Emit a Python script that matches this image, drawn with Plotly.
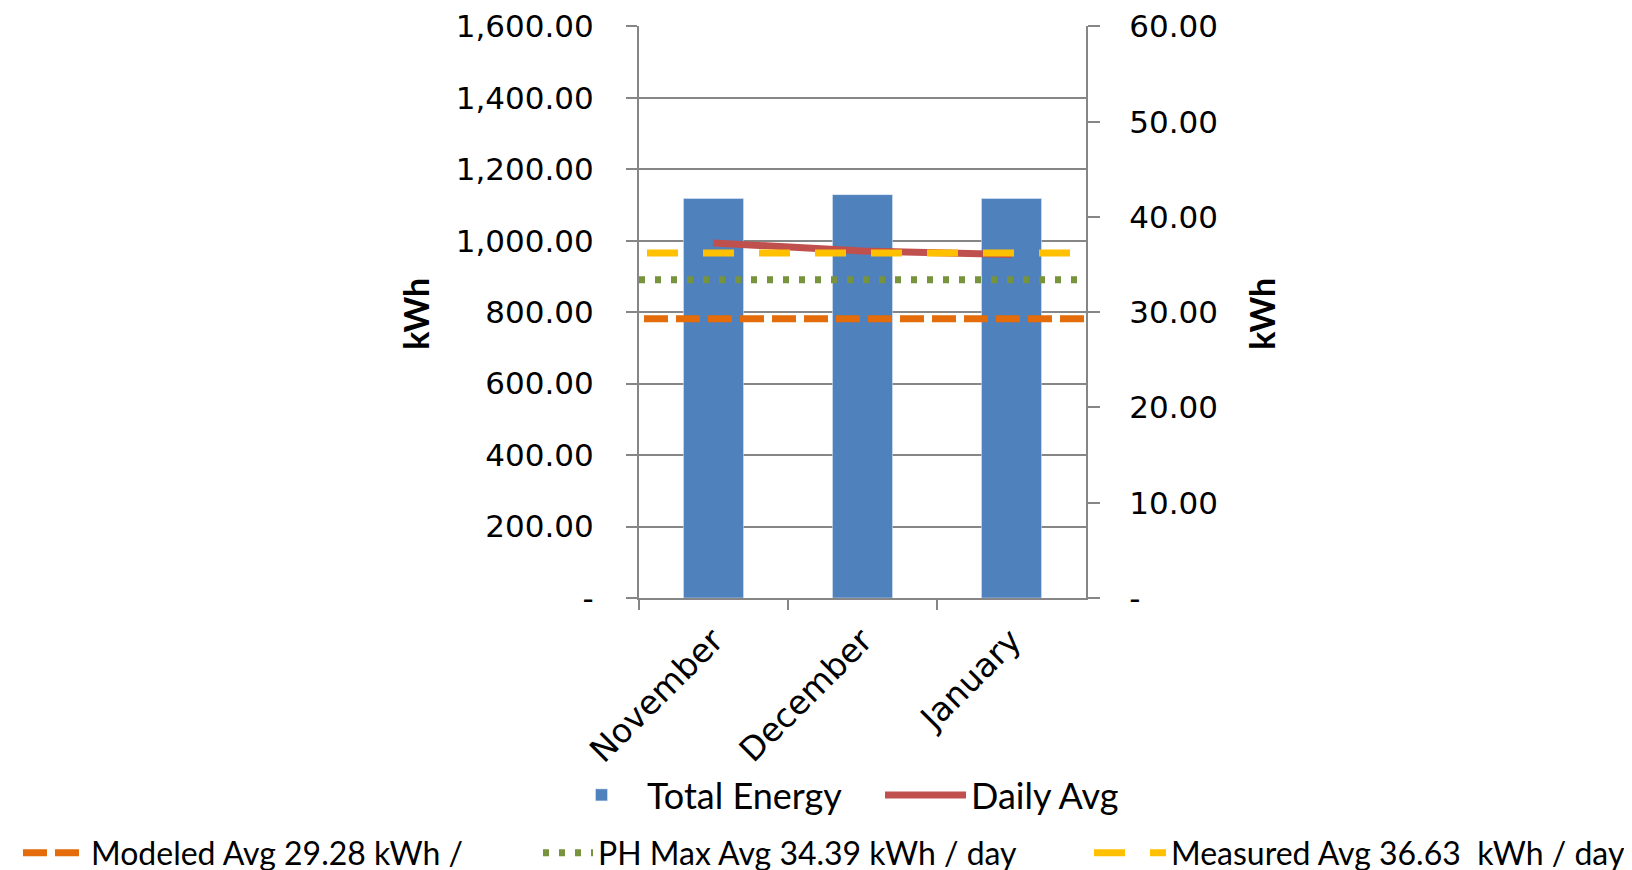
import plotly.graph_objects as go

months = ["November", "December", "January"]
total_energy = [1118, 1129, 1118]          # kWh per month (left axis)
daily_avg = [37.27, 36.42, 36.06]          # kWh/day (right axis)
modeled_avg = 29.3
phmax_avg = 33.4
measured_avg = 36.2
modeled_label = "Modeled Avg 29.28 kWh / "
phmax_label = "PH Max Avg 34.39 kWh / day"
measured_label = "Measured Avg 36.63  kWh / day"

left_ticks = [0, 200, 400, 600, 800, 1000, 1200, 1400, 1600]
left_text = ["-", "200.00", "400.00", "600.00", "800.00", "1,000.00", "1,200.00", "1,400.00", "1,600.00"]
right_ticks = [0, 10, 20, 30, 40, 50, 60]
right_text = ["-", "10.00", "20.00", "30.00", "40.00", "50.00", "60.00"]

W, H = 1632, 870
TICK_FONT = dict(family="DejaVu Sans", size=31, color="#000000")
XTICK_FONT = dict(family="DejaVu Sans", size=33, color="#000000")
LEG1_FONT = dict(family="Lato, sans-serif", size=36, color="#000000")
LEG2_FONT = dict(family="Lato, sans-serif", size=32, color="#000000")
AX = "#868686"

fig = go.Figure()
fig.add_trace(go.Bar(x=months, y=total_energy, name="Total Energy", marker=dict(color="#4F81BD"),
                     legend="legend"))
fig.add_trace(go.Scatter(x=months, y=daily_avg, name="Daily Avg", mode="lines", yaxis="y2",
                         line=dict(color="#C0504D", width=7), legend="legend2"))
fig.add_trace(go.Scatter(x=[0, 1], y=[modeled_avg, modeled_avg], name=modeled_label, mode="lines",
                         xaxis="x2", yaxis="y2", line=dict(color="#E46C0A", width=7, dash="0px,5px,24px,3px"),
                         legend="legend3"))
fig.add_trace(go.Scatter(x=[0, 1], y=[phmax_avg, phmax_avg], name=phmax_label, mode="lines",
                         xaxis="x2", yaxis="y2", line=dict(color="#77933C", width=7, dash="6px,10px"),
                         legend="legend4"))
fig.add_trace(go.Scatter(x=[0, 1], y=[measured_avg, measured_avg], name=measured_label, mode="lines",
                         xaxis="x2", yaxis="y2", line=dict(color="#FFC000", width=7, dash="0px,8px,31px,17px"),
                         legend="legend5"))


def leg(x_px, y_px, font, itemwidth):
    return dict(orientation="h", xref="container", yref="container", x=x_px / W, xanchor="left",
                y=1 - y_px / H, yanchor="middle", font=font, bgcolor="rgba(0,0,0,0)",
                borderwidth=0, itemwidth=itemwidth)


y_axis_title_font = dict(family="Lato, sans-serif", size=34, color="#000000", weight="bold")

fig.update_layout(
    width=W, height=H,
    margin=dict(l=0, r=0, t=18, b=280, autoexpand=False),
    paper_bgcolor="white", plot_bgcolor="white",
    bargap=0.597,
    showlegend=True,
    xaxis=dict(type="category", domain=[631 / W, 1078 / W], showline=True, linecolor=AX, linewidth=2,
               ticks="outside", tickson="boundaries", ticklen=10, tickcolor=AX, tickwidth=2,
               tickangle=-45, tickfont=XTICK_FONT, ticklabelstandoff=8, showgrid=False,
               range=[-0.5, 2.5]),
    xaxis2=dict(overlaying="x", range=[0, 1], visible=False),
    yaxis=dict(range=[0, 1601], tickvals=left_ticks, ticktext=left_text, showline=True,
               linecolor=AX, linewidth=2, ticks="outside", ticklen=11, tickcolor=AX, tickwidth=2,
               showgrid=True, gridcolor=AX, gridwidth=2, zeroline=False, tickfont=TICK_FONT,
               ticklabelstandoff=26, ticklabeloverflow="allow"),
    yaxis2=dict(overlaying="y", side="right", range=[0, 60.04], tickvals=right_ticks, ticktext=right_text,
                showline=True, linecolor=AX, linewidth=2, ticks="outside", ticklen=12, tickcolor=AX,
                tickwidth=2, showgrid=False, zeroline=False, tickfont=TICK_FONT,
                ticklabelstandoff=23, ticklabeloverflow="allow"),
    legend=leg(548, 787, LEG1_FONT, 81),
    legend2=leg(872, 787, LEG1_FONT, 81),
    legend3=leg(5, 845, LEG2_FONT, 68),
    legend4=leg(530, 845, LEG2_FONT, 50),
    legend5=leg(1073, 845, LEG2_FONT, 80),
    annotations=[
        dict(text="kWh", xref="paper", yref="paper", x=408 / W, y=0.497, textangle=-90,
             showarrow=False, font=y_axis_title_font, xanchor="center", yanchor="middle"),
        dict(text="kWh", xref="paper", yref="paper", x=1254 / W, y=0.497, textangle=-90,
             showarrow=False, font=y_axis_title_font, xanchor="center", yanchor="middle"),
    ],
)

fig.write_html("out.html")
